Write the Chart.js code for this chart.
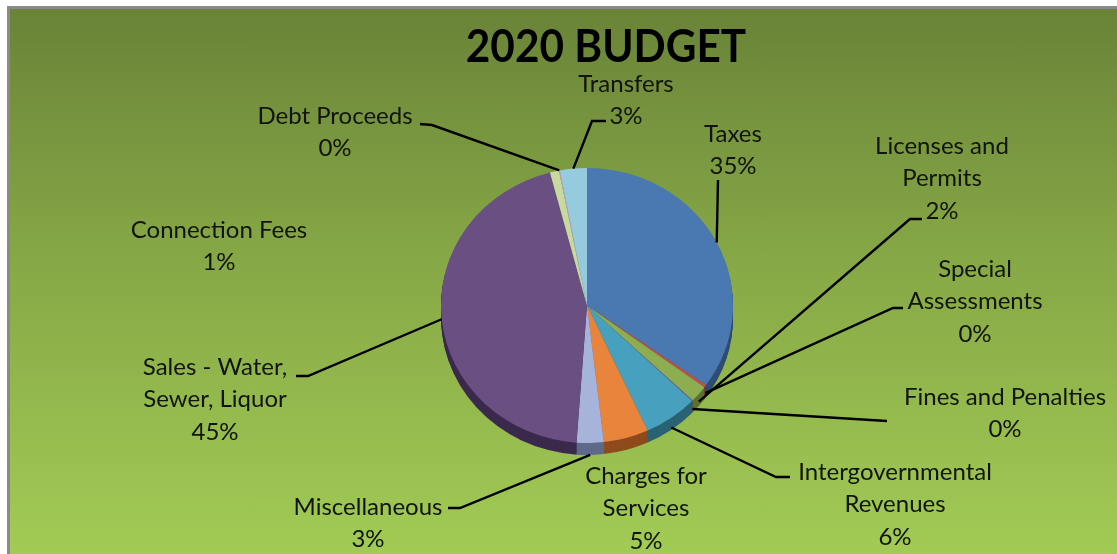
<!DOCTYPE html>
<html>
<head>
<meta charset="utf-8">
<script src="https://cdn.jsdelivr.net/npm/chart.js@4"></script>
<style>
  html, body { margin: 0; padding: 0; background: #fff; }
  #frame {
    position: absolute; left: 7px; top: 6px; width: 1110px; height: 548px;
    box-sizing: border-box;
    border-left: 3px solid #8a8a8a; border-top: 3px solid #8a8a8a;
    background: linear-gradient(#6a8338, #86a746 45%, #a2cb55);
  }
  canvas { position: absolute; left: 0; top: 0; }
</style>
</head>
<body>
<div id="frame"></div>
<canvas id="budget" width="1117" height="554"></canvas>
<script>
const chartTitle = '2020 BUDGET';

// slices, clockwise from 12 o'clock
const categories = [
  'Taxes', 'Special Assessments', 'Licenses and Permits', 'Fines and Penalties',
  'Intergovernmental Revenues', 'Charges for Services', 'Miscellaneous',
  'Sales - Water, Sewer, Liquor', 'Connection Fees', 'Debt Proceeds', 'Transfers'
];
const budgetShare = [35, 0.3, 2, 0.1, 6, 5, 3, 45, 1, 0.1, 3];

// how each category name wraps in its callout
const labelLines = [
  ['Taxes'], ['Special', 'Assessments'], ['Licenses and', 'Permits'], ['Fines and Penalties'],
  ['Intergovernmental', 'Revenues'], ['Charges for', 'Services'], ['Miscellaneous'],
  ['Sales - Water,', 'Sewer, Liquor'], ['Connection Fees'], ['Debt Proceeds'], ['Transfers']
];

const sliceColors = [
  '#4a78b0', '#c0504d', '#8dae50', '#7b5f9e', '#46a0be', '#e8843c',
  '#a6b4db', '#6a5082', '#c8d9a0', '#d9a5a3', '#96cadf'
];
const sideColors = [
  '#2f4d75', '#7a2f2d', '#5a7230', '#4d3b64', '#2a6274', '#8e4b1c',
  '#5f6a8a', '#3b2a4d', '#7d8a5c', '#8a5f5d', '#557f8e'
];

// callout placement: text centre of first line, then the leader path toward the slice
const calloutPos = [
  { x: 733, y: 134, lead: [[718, 180]] },
  { x: 975, y: 269, lead: [[903, 308], [893, 308]] },
  { x: 942, y: 146, lead: [[922, 219], [910, 219]] },
  { x: 1005, y: 397, lead: [[887, 421]] },
  { x: 895, y: 472, lead: [[790, 477], [776, 477]] },
  { x: 646, y: 476 },
  { x: 368, y: 507, lead: [[448, 508], [460, 508]] },
  { x: 215, y: 367, lead: [[296, 376], [308, 376]] },
  { x: 219, y: 230 },
  { x: 335, y: 116, lead: [[420, 124], [432, 125]] },
  { x: 626, y: 84, lead: [[606, 121], [592, 121]] }
];

const TILT = 137.5 / 146;  // squash the disc into an ellipse
const DEPTH = 12;          // thickness of the disc edge

// tilts the pie and paints the dark rim underneath it
const pie3d = {
  id: 'pie3d',
  beforeDatasetsDraw(chart) {
    const ctx = chart.ctx;
    const arcs = chart.getDatasetMeta(0).data;
    const cx = arcs[0].x, cy = arcs[0].y;
    ctx.save();
    ctx.translate(cx, cy);
    ctx.scale(1, TILT);
    ctx.translate(-cx, -cy);
    for (let k = DEPTH; k >= 1; k--) {
      arcs.forEach((a, i) => {
        const oy = a.y + k / TILT;
        ctx.beginPath();
        ctx.moveTo(a.x, oy);
        ctx.arc(a.x, oy, a.outerRadius, a.startAngle, a.endAngle);
        ctx.closePath();
        ctx.fillStyle = sideColors[i];
        ctx.fill();
      });
    }
  },
  afterDatasetsDraw(chart) {
    chart.ctx.restore();
  }
};

const callouts = {
  id: 'callouts',
  afterDraw(chart) {
    const ctx = chart.ctx;
    const arcs = chart.getDatasetMeta(0).data;
    const total = budgetShare.reduce((s, v) => s + v, 0);
    ctx.save();
    ctx.textAlign = 'center';
    ctx.textBaseline = 'middle';
    ctx.fillStyle = '#000';
    ctx.font = 'bold 46px Lato';
    // narrow the heading a little
    ctx.save();
    ctx.translate(606, 47);
    ctx.scale(0.92, 1);
    ctx.fillText(chartTitle, 0, 0);
    ctx.restore();

    ctx.font = '24px Lato';
    ctx.fillStyle = '#10140a';
    ctx.strokeStyle = '#000';
    ctx.lineWidth = 2.4;
    categories.forEach((name, i) => {
      const pos = calloutPos[i];
      const pct = Math.round(budgetShare[i] / total * 100) + '%';
      [...labelLines[i], pct].forEach((t, j) => ctx.fillText(t, pos.x, pos.y + j * 32.5));
      if (!pos.lead) return;
      const a = arcs[i];
      const mid = (a.startAngle + a.endAngle) / 2;
      const s = Math.sin(mid);
      const ax = a.x + Math.cos(mid) * a.outerRadius;
      const ay = a.y + s * a.outerRadius * TILT + (s > 0 ? DEPTH * s : 0);
      ctx.beginPath();
      ctx.moveTo(pos.lead[0][0], pos.lead[0][1]);
      pos.lead.slice(1).forEach(p => ctx.lineTo(p[0], p[1]));
      ctx.lineTo(ax, ay);
      ctx.stroke();
    });
    ctx.restore();
  }
};

new Chart(document.getElementById('budget'), {
  type: 'pie',
  data: {
    labels: categories,
    datasets: [{
      data: budgetShare,
      backgroundColor: sliceColors,
      borderWidth: 0,
      hoverOffset: 0
    }]
  },
  options: {
    responsive: false,
    animation: false,
    events: [],
    layout: { padding: { top: 159.5, bottom: 102.5, left: 300, right: 243 } },
    plugins: { legend: { display: false }, tooltip: { enabled: false }, title: { display: false } }
  },
  plugins: [pie3d, callouts]
});
</script>
</body>
</html>
